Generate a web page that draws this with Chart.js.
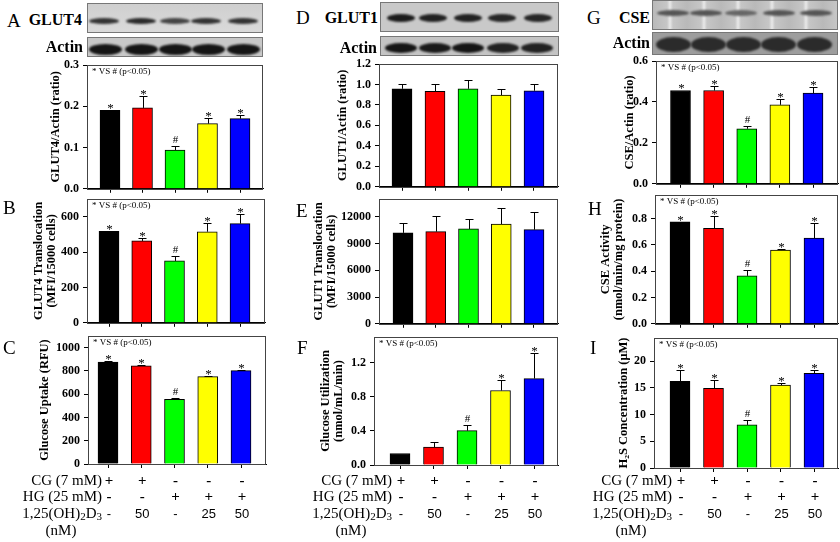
<!DOCTYPE html>
<html><head><meta charset="utf-8">
<script src="https://cdn.jsdelivr.net/npm/chart.js@4.4.1/dist/chart.umd.min.js"></script>
<style>
html,body{margin:0;padding:0;background:#fff;}
#root{position:relative;width:840px;height:542px;overflow:hidden;font-family:'Liberation Serif','Times New Roman',serif;color:#000;}
canvas{position:absolute;}
.letter{position:absolute;font-size:19px;line-height:19px;}
.blab{position:absolute;font-weight:bold;font-size:16px;line-height:16px;text-align:right;white-space:nowrap;}
.blot{position:absolute;border:1px solid #777;box-sizing:border-box;overflow:hidden;}
.band{position:absolute;border-radius:50%;filter:blur(1.3px);}
</style></head><body><div id="root"></div>
<script>
// ---------------- data ----------------
const groups = ['CG', 'CG + 1,25(OH)2D3 50', 'HG', 'HG + 1,25(OH)2D3 25', 'HG + 1,25(OH)2D3 50'];
const barColors = ['#000000', '#ff0000', '#00ff00', '#ffff00', '#0000ff'];
const rowCG = ['+', '+', '-', '-', '-'];
const rowHG = ['-', '-', '+', '+', '+'];
const rowD3 = ['-', '50', '-', '25', '50'];

const glut4Ratio = [0.190, 0.196, 0.094, 0.158, 0.170];
const glut4RatioSem = [0, 0.028, 0.010, 0.014, 0.010];
const glut4Transloc = [517, 463, 350, 515, 561];
const glut4TranslocSem = [0, 17, 28, 52, 54];
const glucoseUptake = [875, 843, 556, 751, 803];
const glucoseUptakeSem = [11, 9, 9, 9, 8];
const glut1Ratio = [0.958, 0.932, 0.958, 0.897, 0.939];
const glut1RatioSem = [0.042, 0.074, 0.081, 0.055, 0.067];
const glut1Transloc = [10200, 10340, 10640, 11190, 10560];
const glut1TranslocSem = [1140, 1730, 1140, 1770, 1990];
const glucoseUtil = [0.135, 0.209, 0.402, 0.873, 1.013];
const glucoseUtilSem = [0, 0.058, 0.062, 0.124, 0.305];
const cseRatio = [0.456, 0.456, 0.269, 0.386, 0.443];
const cseRatioSem = [0, 0.021, 0.014, 0.030, 0.032];
const cseActivity = [0.775, 0.727, 0.365, 0.561, 0.652];
const cseActivitySem = [0, 0.096, 0.043, 0.010, 0.115];
const h2sConc = [16.2, 14.9, 8.06, 15.5, 17.7];
const h2sConcSem = [2.2, 1.5, 0.84, 0.3, 0.6];

const sigFull = ['*', '*', '#', '*', '*'];
const sigF = ['', '', '#', '*', '*'];
const sigNone = ['', '', '', '', ''];

const ticksA = [0, 0.1, 0.2, 0.3];        const labelsA = ['0.0', '0.1', '0.2', '0.3'];
const ticksB = [0, 200, 400, 600];        const labelsB = ['0', '200', '400', '600'];
const ticksC = [0, 200, 400, 600, 800, 1000]; const labelsC = ['0', '200', '400', '600', '800', '1000'];
const ticksD = [0, 0.2, 0.4, 0.6, 0.8, 1.0, 1.2]; const labelsD = ['0.0', '0.2', '0.4', '0.6', '0.8', '1.0', '1.2'];
const ticksE = [0, 3000, 6000, 9000, 12000]; const labelsE = ['0', '3000', '6000', '9000', '12000'];
const ticksF = [0, 0.4, 0.8, 1.2];        const labelsF = ['0.0', '0.4', '0.8', '1.2'];
const ticksG = [0, 0.2, 0.4, 0.6];        const labelsG = ['0.0', '0.2', '0.4', '0.6'];
const ticksH = [0, 0.2, 0.4, 0.6, 0.8];   const labelsH = ['0.0', '0.2', '0.4', '0.6', '0.8'];
const ticksI = [0, 5, 10, 15, 20];        const labelsI = ['0', '5', '10', '15', '20'];

// ---------------- layout ----------------
const SERIF = "'Liberation Serif','Times New Roman',serif";
const SANS = "'Liberation Sans',Arial,sans-serif";
const root = document.getElementById('root');
const XH = 6;
const TITLE_SIZE = 12.5;

const panels = [
  {vals: glut4Ratio, sem: glut4RatioSem, sig: sigFull, ticks: ticksA, labels: labelsA, ymax: 0.3, title: 'GLUT4/Actin (ratio)', box: [87, 65, 263, 190], centers: [110, 240], titleX: 55, vs: true},
  {vals: glut4Transloc, sem: glut4TranslocSem, sig: sigFull, ticks: ticksB, labels: labelsB, ymax: 700, title: ['GLUT4 Translocation', '(MFI/15000 cells)'], box: [87, 199, 265, 324], centers: [109, 240], titleX: 38, vs: true},
  {vals: glucoseUptake, sem: glucoseUptakeSem, sig: sigFull, ticks: ticksC, labels: labelsC, ymax: 1100, title: 'Glucose Uptake (RFU)', box: [88, 336, 266, 464], centers: [108, 241], titleX: 44, vs: true, table: 102},
  {vals: glut1Ratio, sem: glut1RatioSem, sig: sigNone, ticks: ticksD, labels: labelsD, ymax: 1.2, title: 'GLUT1/Actin (ratio)', box: [379, 64, 558, 188], centers: [402, 534], titleX: 342, vs: false},
  {vals: glut1Transloc, sem: glut1TranslocSem, sig: sigNone, ticks: ticksE, labels: labelsE, ymax: 14000, title: ['GLUT1 Translocation', '(MFI/15000 cells)'], box: [379, 199, 558, 325], centers: [403, 534], titleX: 318, vs: false},
  {vals: glucoseUtil, sem: glucoseUtilSem, sig: sigF, ticks: ticksF, labels: labelsF, ymax: 1.5, title: ['Glucose Utilization', '(nmol/mL/min)'], box: [374, 337, 558, 465], centers: [400, 534], titleX: 325, vs: true, table: 392},
  {vals: cseRatio, sem: cseRatioSem, sig: sigFull, ticks: ticksG, labels: labelsG, ymax: 0.6, title: 'CSE/Actin (ratio)', box: [656, 61, 838, 185], centers: [680.5, 813], titleX: 629, vs: true},
  {vals: cseActivity, sem: cseActivitySem, sig: sigFull, ticks: ticksH, labels: labelsH, ymax: 0.98, title: ['CSE Activity', '(nmol/min/mg protein)'], box: [655, 195, 838, 325], centers: [680, 814], titleX: 605, vs: true},
  {vals: h2sConc, sem: h2sConcSem, sig: sigFull, ticks: ticksI, labels: labelsI, ymax: 24.3, title: 'H\u2082S Concentration (\u03bcM)', box: [654, 338, 838, 468], centers: [680, 814], titleX: 623, vs: true, table: 672}
];
const tableRowsY = [481, 497, 514, 531];

function drawPieces(ctx, pieces, right, y) {
  let total = 0;
  pieces.forEach(pc => { ctx.font = pc[1]; total += ctx.measureText(pc[0]).width; });
  let x = right - total;
  ctx.textAlign = 'left';
  pieces.forEach(pc => { ctx.font = pc[1]; ctx.fillText(pc[0], x, y + pc[2]); x += ctx.measureText(pc[0]).width; });
}

const overlayPlugin = {
  id: 'overlay',
  afterDatasetsDraw(chart) {
    const p = chart.options.plugins.overlay.p;
    const ctx = chart.ctx, xs = chart.scales.x, ys = chart.scales.y, a = chart.chartArea;
    ctx.save();
    // frame
    ctx.strokeStyle = '#444'; ctx.lineWidth = 1;
    ctx.strokeRect(Math.round(a.left) + 0.5, Math.round(a.top) + 0.5, Math.round(a.right - a.left) - 1, Math.round(a.bottom - a.top));
    // error bars + significance marks
    ctx.strokeStyle = '#000';
    p.vals.forEach((v, i) => {
      const x = Math.round(xs.getPixelForValue(i)) + 0.5;
      const yb = ys.getPixelForValue(v);
      const yt = ys.getPixelForValue(v + p.sem[i]);
      if (p.sem[i] > 0) {
        ctx.beginPath();
        ctx.moveTo(x, yb); ctx.lineTo(x, Math.round(yt) + 0.5);
        ctx.moveTo(x - 4, Math.round(yt) + 0.5); ctx.lineTo(x + 4, Math.round(yt) + 0.5);
        ctx.stroke();
      }
      if (p.sig[i]) {
        ctx.fillStyle = '#000';
        ctx.font = (p.sig[i] === '*' ? '13px ' : '11px ') + SERIF;
        ctx.textAlign = 'center'; ctx.textBaseline = 'alphabetic';
        ctx.fillText(p.sig[i], x, Math.min(yt, yb) - (p.sig[i] === '*' ? -2 : 3));
      }
    });
    if (p.vs) {
      ctx.fillStyle = '#000'; ctx.font = '9px ' + SERIF; ctx.textAlign = 'left'; ctx.textBaseline = 'middle';
      ctx.fillText('* VS # (p<0.05)', a.left + 5, a.top + 7);
    }
    if (p.table) {
      ctx.fillStyle = '#000';
      ctx.textBaseline = 'middle';
      const rows = [rowCG, rowHG, rowD3];
      rows.forEach((row, r) => {
        const yy = tableRowsY[r] - p.y0;
        row.forEach((t, i) => {
          const x = xs.getPixelForValue(i) + 1;
          ctx.font = r < 2 ? 'bold 15px ' + SERIF : '13px ' + SANS;
          ctx.textAlign = 'center';
          ctx.fillText(t, x, yy);
        });
      });
      // row captions
      const R = p.table - p.x0;
      const F = '15px ' + SERIF, FS = '11px ' + SERIF;
      drawPieces(ctx, [['CG (7 mM)', F, 0]], R, tableRowsY[0] - p.y0);
      drawPieces(ctx, [['HG (25 mM)', F, 0]], R, tableRowsY[1] - p.y0);
      drawPieces(ctx, [['1,25(OH)', F, 0], ['2', FS, 3], ['D', F, 0], ['3', FS, 3]], R, tableRowsY[2] - p.y0);
      ctx.font = F; ctx.textAlign = 'center';
      ctx.fillText('(nM)', R - 41, tableRowsY[3] - p.y0);
    }
    ctx.restore();
  }
};

function buildPanel(p) {
  const lh = TITLE_SIZE;
  let x0 = Math.floor(p.titleX - lh / 2 - 2);
  if (p.table) x0 = Math.min(x0, p.table - 100);
  const padL = p.titleX - lh / 2 - x0;
  const y0 = p.box[1] - 12;
  const y1 = p.table ? 542 : p.box[3] + 10;
  const x1 = p.box[2] + 3;
  p.y0 = y0; p.x0 = x0;
  const W = x1 - x0, H = y1 - y0;
  const yW = p.box[0] - x0 - padL;
  const padB = y1 - p.box[3] - XH;
  const s = (p.centers[1] - p.centers[0]) / 4;
  const xmin = -(p.centers[0] - p.box[0]) / s;
  const xmax = 4 + (p.box[2] - p.centers[1]) / s;
  const cv = document.createElement('canvas');
  cv.width = W; cv.height = H;
  cv.style.left = x0 + 'px'; cv.style.top = y0 + 'px';
  cv.style.width = W + 'px'; cv.style.height = H + 'px';
  root.appendChild(cv);
  new Chart(cv, {
    type: 'bar',
    data: {
      labels: groups,
      datasets: [{
        data: p.vals.map((v, i) => ({x: i, y: v})),
        backgroundColor: barColors,
        borderColor: '#000',
        borderWidth: 1,
        barThickness: 20
      }]
    },
    options: {
      responsive: false, animation: false, devicePixelRatio: 1,
      layout: {padding: {left: padL, top: 12, right: 3, bottom: padB}},
      plugins: {legend: {display: false}, tooltip: {enabled: false}, overlay: {p}},
      scales: {
        x: {
          type: 'linear', min: xmin, max: xmax, offset: false,
          afterBuildTicks(sc) { sc.ticks = groups.map((g, i) => ({value: i})); },
          ticks: {display: false},
          grid: {offset: false, drawOnChartArea: false, drawTicks: true, tickLength: 4, color: '#000'},
          border: {display: true, color: '#000'},
          afterFit(sc) { sc.height = XH; }
        },
        y: {
          min: 0, max: p.ymax,
          afterBuildTicks(sc) { sc.ticks = p.ticks.map(v => ({value: v})); },
          ticks: {font: {family: SERIF, weight: 'bold', size: 12}, color: '#000', padding: 4,
                  callback: (v, i) => p.labels[i]},
          grid: {drawOnChartArea: false, drawTicks: true, tickLength: 4, color: '#000'},
          border: {display: true, color: '#000'},
          title: {display: true, text: p.title, color: '#000', padding: 0,
                  font: {family: SERIF, weight: 'bold', size: TITLE_SIZE, lineHeight: 1.05}},
          afterFit(sc) { sc.width = yW; }
        }
      }
    },
    plugins: [overlayPlugin]
  });
}
panels.forEach(buildPanel);

// ---------------- text labels ----------------
function addDiv(cls, html, css) {
  const d = document.createElement('div');
  d.className = cls; d.innerHTML = html;
  Object.assign(d.style, css);
  root.appendChild(d);
  return d;
}
[['A', 7, 11], ['B', 3, 198], ['C', 3, 338], ['D', 296, 8], ['E', 296, 201], ['F', 297, 338],
 ['G', 587, 8], ['H', 588, 199], ['I', 590, 338]].forEach(([t, x, y]) =>
  addDiv('letter', t, {left: x + 'px', top: y + 'px'}));

[['GLUT4', 82, 12], ['Actin', 83, 39], ['GLUT1', 378, 10], ['Actin', 377, 40], ['CSE', 650, 10], ['Actin', 650, 35]]
  .forEach(([t, r, y]) => addDiv('blab', t, {right: (840 - r) + 'px', top: y + 'px'}));

// ---------------- blots (decorative images) ----------------
function blot(l, t, r, b, bg, lanes, cy, bw, bh, colors) {
  const d = document.createElement('div');
  d.className = 'blot';
  Object.assign(d.style, {left: l + 'px', top: t + 'px', width: (r - l) + 'px', height: (b - t) + 'px', background: bg});
  lanes.forEach((c, i) => {
    const e = document.createElement('div');
    e.className = 'band';
    Object.assign(e.style, {left: (c - bw / 2 - l) + 'px', top: (cy - bh / 2 - t) + 'px', width: bw + 'px', height: bh + 'px', background: colors[i % colors.length]});
    d.appendChild(e);
  });
  root.appendChild(d);
}
blot(87, 3, 263, 33, 'linear-gradient(#cfcfcf,#dadada)', [103, 140, 174, 205, 242], 20, 30, 6, ['#333', '#2a2a2a', '#444', '#333', '#333']);
blot(87, 37, 263, 57, '#c8c8c8', [104, 140, 174, 207, 242], 48, 33, 11, ['#151515']);
blot(380, 2, 559, 32, '#c9c9c9', [400, 432, 467, 501, 537], 17, 28, 8, ['#1c1c1c', '#222', '#222', '#262626', '#262626']);
blot(380, 36, 559, 56, '#c4c4c4', [400, 434, 467, 502, 536], 47, 32, 10, ['#151515', '#1a1a1a', '#151515', '#222', '#222']);
blot(652, 0, 838, 30, 'repeating-linear-gradient(90deg,#b9b9b9 0px,#c6c6c6 14px,#e8e8e8 17px,#c6c6c6 20px,#b9b9b9 34px)', [672, 705, 740, 778, 815], 12, 32, 6, ['#555', '#555', '#666', '#555', '#555']);
blot(652, 32, 838, 55, '#9d9d9d', [672, 707, 742, 777, 813], 43, 35, 15, ['#2b2b2b']);
</script>
</body></html>
